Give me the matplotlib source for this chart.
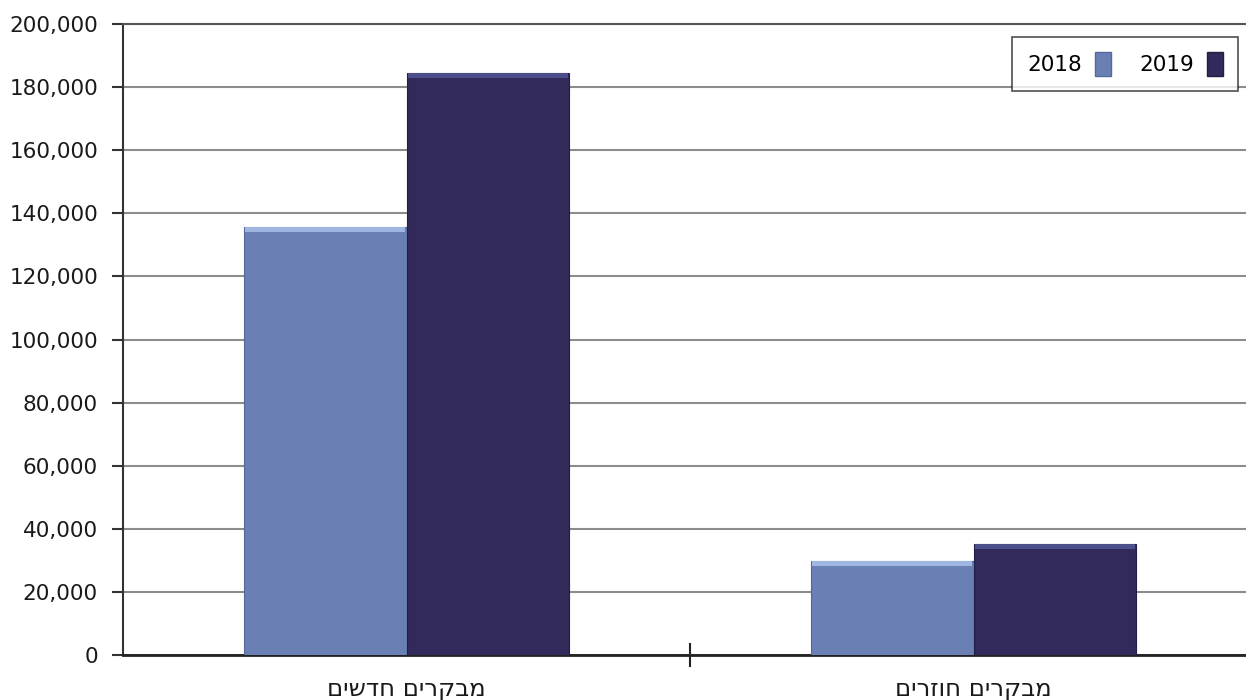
import matplotlib
matplotlib.use("Agg")
import matplotlib.pyplot as plt
from matplotlib.ticker import FuncFormatter, MultipleLocator
from matplotlib.patches import Patch
import numpy as np

plt.rcParams['font.family'] = ['DejaVu Sans']

categories = ["מבקרים חדשים", "מבקרים חוזרים"]
years = ["2018", "2019"]
visitors_2018 = [135700, 29800]
visitors_2019 = [184600, 35200]

face_colors = ["#6a80b5", "#312a5a"]
top_colors = ["#9fb6e2", "#4c4f8c"]
edge_colors = ["#55689a", "#231e45"]


def visual(s):
    # matplotlib lays glyphs out left to right, so Hebrew is given in visual order
    return s[::-1]


fig = plt.figure(figsize=(12.46, 7.00), dpi=100)
ax = fig.add_axes([123 / 1246, 1 - 655 / 700, (1257 - 123) / 1246, (655 - 24) / 700])

x = np.arange(len(categories))
width = 0.287
ymax = 200000
band = 5 / 631 * ymax  # height of the bevelled top edge, about 5 px

for i, (vals, off) in enumerate([(visitors_2018, -width / 2), (visitors_2019, width / 2)]):
    ax.bar(x + off, vals, width, color=face_colors[i], edgecolor=edge_colors[i],
           linewidth=0.8, zorder=3)
    ax.bar(x + off, [band] * len(vals), width * 0.985, bottom=[v - band for v in vals],
           color=top_colors[i], linewidth=0, zorder=4)

ax.set_xlim(-0.5, 1.5)
ax.set_ylim(0, ymax)
ax.yaxis.set_major_locator(MultipleLocator(20000))
ax.yaxis.set_major_formatter(FuncFormatter(lambda v, p: f"{int(v):,}"))
ax.grid(axis='y', color='#8c8c8c', linewidth=1.5, zorder=0)
ax.set_axisbelow(True)

ax.set_xticks(x)
ax.set_xticklabels([visual(c) for c in categories], fontsize=17.5, color='#1a1a1a')
ax.set_xticks([0.5], minor=True)
ax.tick_params(axis='x', which='major', length=0, pad=16)
ax.tick_params(axis='x', which='minor', direction='inout', length=17, width=1.5, color='#222222')
ax.tick_params(axis='y', direction='out', length=8, width=1.5, color='#333333',
               labelsize=15.5, labelcolor='#1a1a1a', pad=10)

for side in ['right']:
    ax.spines[side].set_visible(False)
ax.spines['top'].set_color('#555555')
ax.spines['top'].set_linewidth(1.5)
ax.spines['left'].set_color('#333333')
ax.spines['left'].set_linewidth(1.5)
ax.spines['bottom'].set_color('#222222')
ax.spines['bottom'].set_linewidth(2)

handles = [Patch(facecolor=face_colors[i], edgecolor=edge_colors[i]) for i in range(2)]
leg = ax.legend(handles, years, loc='upper right', bbox_to_anchor=(1012 / 1246, 1 - 37 / 700,
                (1238 - 1012) / 1246, 0), bbox_transform=fig.transFigure,
                ncol=2, markerfirst=False, frameon=True, fancybox=False, fontsize=15.5,
                handlelength=0.75, handleheight=1.3, handletextpad=0.6, columnspacing=1.5,
                borderpad=0.7, mode='expand', borderaxespad=0)
leg.get_frame().set_edgecolor('#222222')
leg.get_frame().set_linewidth(1.2)
leg.set_zorder(10)

fig.savefig("out.png", dpi=100)
